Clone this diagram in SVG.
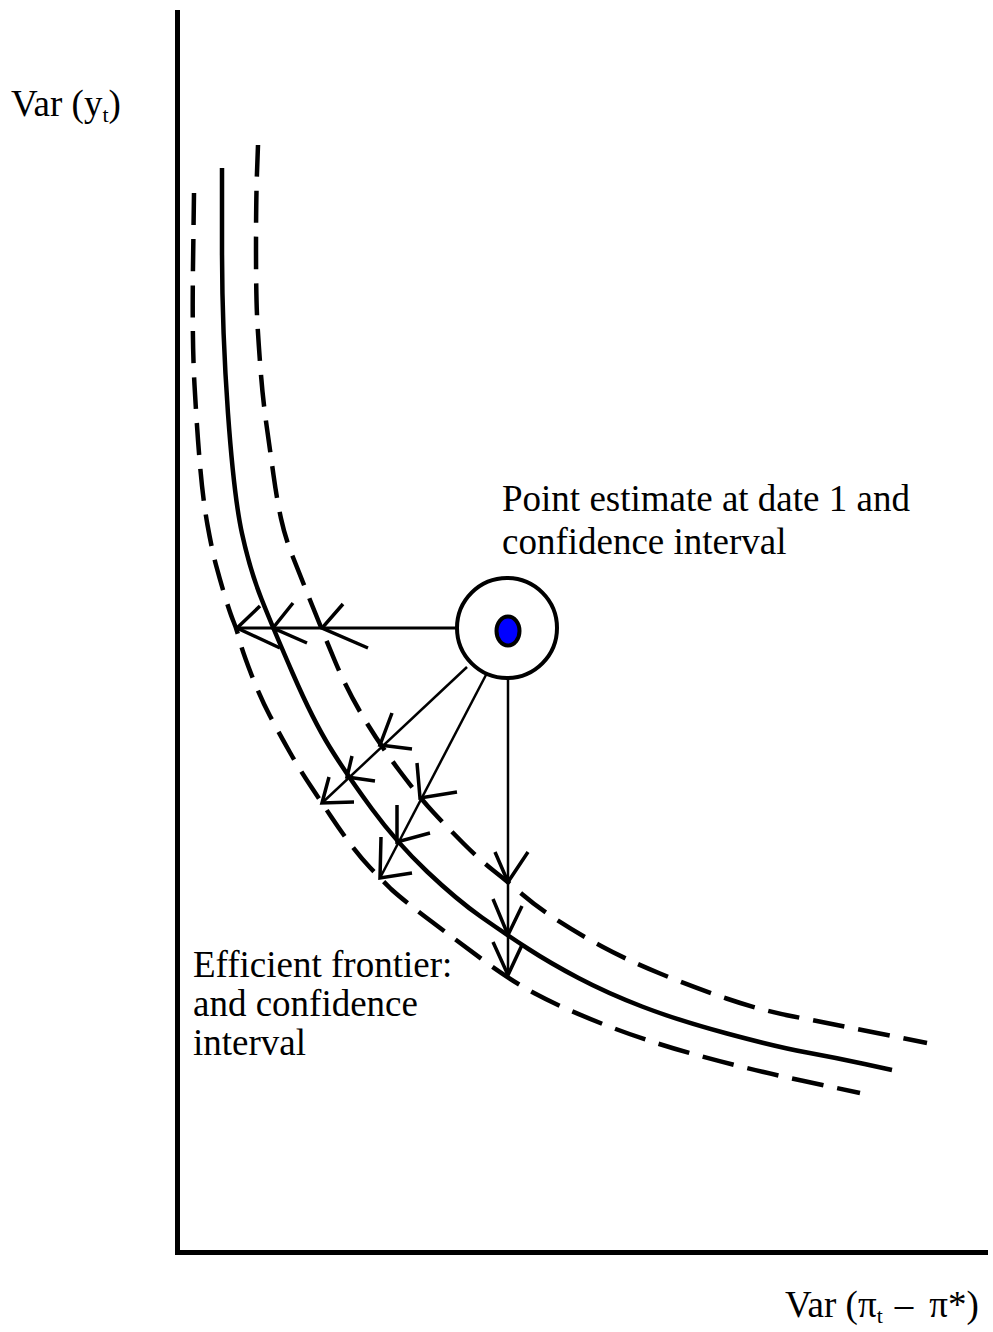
<svg xmlns="http://www.w3.org/2000/svg" width="993" height="1332" viewBox="0 0 993 1332">
<style>
text{font-family:"Liberation Serif","Times New Roman",serif;font-size:37px;fill:#000}
.sub{font-size:22px}
.curve{fill:none;stroke:#000;stroke-width:4.5;stroke-linecap:butt;stroke-linejoin:round}
.dash{stroke-dasharray:32 14}
.ln{fill:none;stroke:#000;stroke-width:2.5}
.hd{fill:none;stroke:#000;stroke-width:3.5;stroke-linecap:butt;stroke-linejoin:miter}
.axis{fill:none;stroke:#000;stroke-width:5}
</style>
<rect width="993" height="1332" fill="#fff"/>
<g id="axes">
<line class="axis" x1="177.5" y1="10" x2="177.5" y2="1255"/>
<line class="axis" x1="178" y1="1252.5" x2="988" y2="1252.5"/>
</g>
<g id="frontier">
<path class="curve" d="M222,168 L222,249 Q222,330 228,413.5 Q234,497 242,533.5 Q250,570 261.5,599 Q273,628 293,674 Q313,720 330,747.5 Q347,775 372,809 Q397,843 427,871.5 Q457,900 482,917.5 Q507,935 528.5,949 Q550,963 578.5,978 Q607,993 642,1006.5 Q677,1020 727,1033.5 Q777,1047 807,1052.5 Q837,1058 864.5,1064 L892,1070"/>
</g>
<g id="lower-bound">
<path class="curve dash" d="M194,193 L193,266 Q192,340 194.5,385 Q197,430 200,465 Q203,500 207.5,525 Q212,550 216,565 Q220,580 225,596.5 Q230,613 233.5,621.5 Q237,630 239.5,640 Q242,650 251,673.5 Q260,697 270,716 Q280,735 290,752.5 Q300,770 311,786.5 Q322,803 331,816.5 Q340,830 350,843.5 Q360,857 370,867.5 Q380,878 391,889 Q403,900 431.5,921.5 Q460,943 485,961.5 Q510,980 535,993.5 Q560,1007 601.5,1023.5 Q643,1040 693,1054 Q743,1068 801.5,1080.5 L860,1093"/>
</g>
<g id="upper-bound">
<path class="curve dash" d="M258,145 L257,172.5 Q256,200 256,250 Q256,300 257.5,325 Q259,350 261,375 Q263,400 266.5,425 Q270,450 273.5,475 Q277,500 281,518.5 Q285,537 292.5,556 Q300,575 311,602.5 Q322,630 334.5,660 Q347,690 363.5,717.5 Q380,745 400,771.5 Q420,798 433.5,812.5 Q447,827 463.5,843.5 Q480,860 494,871 Q508,882 522.5,894.5 Q537,907 557,920 Q577,933 602,946.5 Q627,960 660,973.5 Q693,987 726.5,998.5 Q760,1010 793.5,1016.5 Q827,1023 877,1033 L927,1043"/>
</g>
<g id="point-estimate">
<circle cx="507" cy="628" r="50" fill="#fff" stroke="#000" stroke-width="4"/>
<ellipse cx="508" cy="631" rx="11.5" ry="14.5" fill="#0000ff" stroke="#000" stroke-width="4"/>
</g>
<g id="connectors">
<path class="ln" style="stroke-width:3" d="M457,628 H237"/>
<path class="hd" d="M260,606 L237,628 L280,648 M293,603 L273,628 L307,643 M343,604 L322,628 L368,648"/>
<path class="ln" d="M467,667 L322,803"/>
<path class="hd" d="M392,713 L380,745 L412,749 M352,756 L347,777 L375,781 M329,777 L322,803 L354,802"/>
<path class="ln" d="M487,673 L380,878"/>
<path class="hd" d="M417,763 L420,798 L457,792 M397,805 L397,842 L430,833 M381,837 L380,878 L412,873"/>
<path class="ln" d="M508,678 V975"/>
<path class="hd" d="M495,852 L508,882 L528,852 M493,899 L508,935 L522,906 M493,942 L508,975 L522,945"/>
</g>
<g id="labels">
<text x="11" y="116">Var (y<tspan class="sub" dy="6">t</tspan><tspan dy="-6">)</tspan></text>
<text x="502" y="511">Point estimate at date 1 and</text>
<text x="502" y="554">confidence interval</text>
<text x="193" y="977">Efficient frontier:</text>
<text x="193" y="1016">and confidence</text>
<text x="193" y="1055">interval</text>
<text x="785" y="1317">Var (π<tspan class="sub" dy="6">t</tspan><tspan dy="-6" dx="12">–</tspan><tspan dx="16">π*)</tspan></text>
</g>
</svg>
